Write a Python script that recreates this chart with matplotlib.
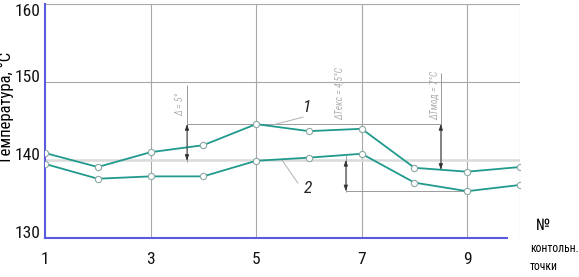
import numpy as np
import matplotlib
matplotlib.use('Agg')
from matplotlib import pyplot as plt
from matplotlib import font_manager

# узкий шрифт, если есть
names = set(f.name for f in font_manager.fontManager.ttflist)
family = 'DejaVu Sans'
for cand in ['Liberation Sans Narrow', 'Roboto Condensed', 'DejaVu Sans Condensed', 'Roboto']:
    if cand in names:
        family = cand
        break
plt.rcParams['font.family'] = [family, 'DejaVu Sans']
fs = 12.5 if family != 'Roboto' else 11.5

# номера контрольных точек и температуры
points = [1, 2, 3, 4, 5, 6, 7, 8, 9, 10]
temp1 = [140.9, 139.1, 141.0, 141.9, 144.6, 143.7, 144.0, 139.0, 138.5, 139.1]
temp2 = [139.5, 137.6, 137.9, 137.9, 139.9, 140.3, 140.8, 137.1, 136.0, 136.8]
xticks = [1, 3, 5, 7, 9]
yticks = [130, 140, 150, 160]
dim_labels = ['Δ = 5°', 'ΔTекс = 4,5°C', 'ΔTмод = 7°C']

teal = '#1f9a8c'
blue = '#5a5ae0'
grey = '#a8a8a8'
dimc = '#9a9a9a'

fig = plt.figure(figsize=(5.79, 2.77), dpi=100)
ax = fig.add_axes([45/579, 39/277, 475/579, 234/277])
ax.set_xlim(1, 10)
ax.set_ylim(130, 160)

# сетка
for xv in [3, 5, 7, 9, 10]:
    ax.axvline(xv, color=grey, lw=0.8, zorder=1)
ax.axhline(150, color=grey, lw=0.8, zorder=1)
ax.axhline(160, color=grey, lw=0.8, zorder=1)
ax.axhline(140, color='#dadada', lw=1.8, zorder=1)

# кривые
mk = dict(marker='o', ms=4.5, mfc='white', mec='#8aa8a4', mew=0.8)
ax.plot(points, temp1, color=teal, lw=1.3, zorder=3, **mk)
ax.plot(points, temp2, color=teal, lw=1.3, zorder=3, **mk)

# размерные линии
top = max(temp1)
x_d1, x_d2, x_d3 = 3.69, 6.70, 8.50
ax.plot([x_d1, x_d3], [top, top], color=dimc, lw=0.7, zorder=2)
ax.plot([x_d2, 9], [min(temp2), min(temp2)], color=dimc, lw=0.7, zorder=2)
low3 = np.interp(x_d3, points, temp1)

arr = dict(arrowstyle='<|-|>,head_length=0.35,head_width=0.12', color='#333333', lw=0.6, shrinkA=0, shrinkB=0)
ax.vlines(x_d1, 139.7, 149.6, color=dimc, lw=0.7, zorder=2)
ax.annotate('', xy=(x_d1, top), xytext=(x_d1, temp2[4]), arrowprops=arr)
ax.vlines(x_d2, 135.9, 140.6, color=dimc, lw=0.7, zorder=2)
ax.annotate('', xy=(x_d2, 140), xytext=(x_d2, min(temp2)), arrowprops=arr)
ax.vlines(x_d3, low3, 151.2, color=dimc, lw=0.7, zorder=2)
ax.annotate('', xy=(x_d3, top), xytext=(x_d3, low3), arrowprops=arr)

dtext = dict(rotation=90, fontsize=7, style='italic', color='#b0b0b0', ha='center', va='center')
ax.text(3.56, 147.1, dim_labels[0], **dtext)
ax.text(6.59, 148.5, dim_labels[1], **dtext)
ax.text(8.39, 148.3, dim_labels[2], **dtext)

# выноски 1 и 2
ax.plot([5.32, 5.89], [144.5, 145.5], color='#b0b0b0', lw=0.7, zorder=2)
ax.plot([5.49, 5.79], [140.0, 137.05], color='#b0b0b0', lw=0.7, zorder=2)
ax.text(5.96, 146.7, '1', fontsize=fs, style='italic', ha='center', va='center', color='#222222')
ax.text(5.98, 136.4, '2', fontsize=fs, style='italic', ha='center', va='center', color='#222222')

# оси
for s in ['top', 'right']:
    ax.spines[s].set_visible(False)
ax.spines['left'].set_color(blue)
ax.spines['left'].set_linewidth(1.5)
ax.spines['bottom'].set_color(blue)
ax.spines['bottom'].set_linewidth(1.5)
ax.spines['bottom'].set_bounds(1, 9.76)

ax.set_xticks(xticks)
ax.set_yticks(yticks)
ax.tick_params(length=0, labelsize=fs, colors='#111111')
ax.tick_params(axis='x', pad=10)
ax.tick_params(axis='y', pad=3)
for lab in ax.get_yticklabels():
    lab.set_va('baseline')
ax.get_yticklabels()[-1].set_va('top')

ax.set_ylabel('Температура, °C', fontsize=fs - 0.5)
ax.yaxis.set_label_coords(-0.066, 0.556)

fig.text(536/579, 1 - 225/277, '№', fontsize=fs - 1, ha='left', va='center')
fig.text(530/579, 1 - 248/277, 'контольн.', fontsize=8.4, ha='left', va='center')
fig.text(530/579, 1 - 267/277, 'точки', fontsize=8.4, ha='left', va='center')

fig.savefig('out.png', dpi=100)
